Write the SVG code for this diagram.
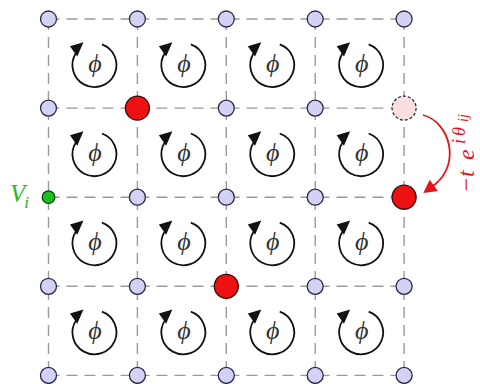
<svg xmlns="http://www.w3.org/2000/svg" xmlns:xlink="http://www.w3.org/1999/xlink" width="480" height="384" viewBox="0 0 480 384">
<style>
.grid{stroke:#9a9a9a;stroke-width:1.4;stroke-dasharray:11 7;fill:none}
.site{fill:#d2d2f4;stroke:#2a2a48;stroke-width:1.3}
.red{fill:#ee1111;stroke:#3a0a0a;stroke-width:1.3}
.pale{fill:#fbdede;stroke:#222;stroke-width:1.2;stroke-dasharray:3 2}
.green{fill:#1fbf1f;stroke:#0a3a0a;stroke-width:1.2}
.phi{font-family:"Liberation Serif","DejaVu Serif",serif;font-style:italic;font-size:26px;fill:#333;text-anchor:middle}
.lbl{font-family:"Liberation Serif",serif;font-style:italic}
</style>
<defs>
<g id="rot">
<path d="M 7.52 -20.67 A 22 22 0 1 1 -18.45 -11.98" fill="none" stroke="#111" stroke-width="1.8"/>
<polygon points="-24.5,-18.8 -11,-22.8 -17.2,-8.5" fill="#111"/>
</g>
<marker id="redhead" markerUnits="userSpaceOnUse" markerWidth="16" markerHeight="16" viewBox="0 -8 14 16" refX="1" refY="0" orient="auto">
<path d="M0,-7 L13,0 L0,7 Z" fill="#e8141c"/>
</marker>
</defs>
<rect width="480" height="384" fill="#fff"/>
<g id="connectors">
<line class="grid" x1="48.5" y1="19" x2="404.1" y2="19"/>
<line class="grid" x1="48.5" y1="108.1" x2="404.1" y2="108.1"/>
<line class="grid" x1="48.5" y1="197.2" x2="404.1" y2="197.2"/>
<line class="grid" x1="48.5" y1="286.3" x2="404.1" y2="286.3"/>
<line class="grid" x1="48.5" y1="375.4" x2="404.1" y2="375.4"/>
<line class="grid" x1="48.5" y1="19" x2="48.5" y2="375.4"/>
<line class="grid" x1="137.4" y1="19" x2="137.4" y2="375.4"/>
<line class="grid" x1="226.3" y1="19" x2="226.3" y2="375.4"/>
<line class="grid" x1="315.2" y1="19" x2="315.2" y2="375.4"/>
<line class="grid" x1="404.1" y1="19" x2="404.1" y2="375.4"/>
<path id="hop" d="M 423 115 C 450 122, 462 165, 433 186" fill="none" stroke="#e8141c" stroke-width="1.8" marker-end="url(#redhead)"/>
</g>
<g id="plaquettes">
<g id="p00"><use xlink:href="#rot" x="94.45" y="65.05"/><text class="phi" x="95" y="71.5">ϕ</text></g>
<g id="p10"><use xlink:href="#rot" x="183.35" y="65.05"/><text class="phi" x="183.9" y="71.5">ϕ</text></g>
<g id="p20"><use xlink:href="#rot" x="272.25" y="65.05"/><text class="phi" x="272.8" y="71.5">ϕ</text></g>
<g id="p30"><use xlink:href="#rot" x="361.15" y="65.05"/><text class="phi" x="361.7" y="71.5">ϕ</text></g>
<g id="p01"><use xlink:href="#rot" x="94.45" y="154.15"/><text class="phi" x="95" y="160.6">ϕ</text></g>
<g id="p11"><use xlink:href="#rot" x="183.35" y="154.15"/><text class="phi" x="183.9" y="160.6">ϕ</text></g>
<g id="p21"><use xlink:href="#rot" x="272.25" y="154.15"/><text class="phi" x="272.8" y="160.6">ϕ</text></g>
<g id="p31"><use xlink:href="#rot" x="361.15" y="154.15"/><text class="phi" x="361.7" y="160.6">ϕ</text></g>
<g id="p02"><use xlink:href="#rot" x="94.45" y="243.25"/><text class="phi" x="95" y="249.7">ϕ</text></g>
<g id="p12"><use xlink:href="#rot" x="183.35" y="243.25"/><text class="phi" x="183.9" y="249.7">ϕ</text></g>
<g id="p22"><use xlink:href="#rot" x="272.25" y="243.25"/><text class="phi" x="272.8" y="249.7">ϕ</text></g>
<g id="p32"><use xlink:href="#rot" x="361.15" y="243.25"/><text class="phi" x="361.7" y="249.7">ϕ</text></g>
<g id="p03"><use xlink:href="#rot" x="94.45" y="332.35"/><text class="phi" x="95" y="338.8">ϕ</text></g>
<g id="p13"><use xlink:href="#rot" x="183.35" y="332.35"/><text class="phi" x="183.9" y="338.8">ϕ</text></g>
<g id="p23"><use xlink:href="#rot" x="272.25" y="332.35"/><text class="phi" x="272.8" y="338.8">ϕ</text></g>
<g id="p33"><use xlink:href="#rot" x="361.15" y="332.35"/><text class="phi" x="361.7" y="338.8">ϕ</text></g>
</g>
<g id="nodes">
<g id="n00"><circle class="site" cx="48.5" cy="19" r="8"/></g>
<g id="n10"><circle class="site" cx="137.4" cy="19" r="8"/></g>
<g id="n20"><circle class="site" cx="226.3" cy="19" r="8"/></g>
<g id="n30"><circle class="site" cx="315.2" cy="19" r="8"/></g>
<g id="n40"><circle class="site" cx="404.1" cy="19" r="8"/></g>
<g id="n01"><circle class="site" cx="48.5" cy="108.1" r="8"/></g>
<g id="n11"><circle class="red" cx="137.4" cy="108.1" r="12"/></g>
<g id="n21"><circle class="site" cx="226.3" cy="108.1" r="8"/></g>
<g id="n31"><circle class="site" cx="315.2" cy="108.1" r="8"/></g>
<g id="n41"><circle class="pale" cx="404.1" cy="108.1" r="12"/></g>
<g id="n02"><circle class="green" cx="48.5" cy="197.2" r="6.3"/><text class="lbl" x="10" y="202" font-size="25" fill="#22bb22">V<tspan font-size="17" dx="-1" dy="6">i</tspan></text></g>
<g id="n12"><circle class="site" cx="137.4" cy="197.2" r="8"/></g>
<g id="n22"><circle class="site" cx="226.3" cy="197.2" r="8"/></g>
<g id="n32"><circle class="site" cx="315.2" cy="197.2" r="8"/></g>
<g id="n42"><circle class="red" cx="404.1" cy="197.2" r="12"/></g>
<g id="n03"><circle class="site" cx="48.5" cy="286.3" r="8"/></g>
<g id="n13"><circle class="site" cx="137.4" cy="286.3" r="8"/></g>
<g id="n23"><circle class="red" cx="226.3" cy="286.3" r="12"/></g>
<g id="n33"><circle class="site" cx="315.2" cy="286.3" r="8"/></g>
<g id="n43"><circle class="site" cx="404.1" cy="286.3" r="8"/></g>
<g id="n04"><circle class="site" cx="48.5" cy="375.4" r="8"/></g>
<g id="n14"><circle class="site" cx="137.4" cy="375.4" r="8"/></g>
<g id="n24"><circle class="site" cx="226.3" cy="375.4" r="8"/></g>
<g id="n34"><circle class="site" cx="315.2" cy="375.4" r="8"/></g>
<g id="n44"><circle class="site" cx="404.1" cy="375.4" r="8"/></g>
</g>
<g id="hoplabel" transform="translate(474,193) rotate(-90)" fill="#e8141c">
<text class="lbl" x="0" y="0" font-size="24" font-style="normal">−<tspan x="16" font-style="italic">t</tspan><tspan x="33" font-style="italic">e</tspan><tspan x="49" y="-9" font-size="18" font-style="italic">i</tspan><tspan x="57" y="-9" font-size="18" font-style="italic">θ</tspan><tspan x="71" y="-6" font-size="14" font-style="italic">ij</tspan></text>
</g>
</svg>
